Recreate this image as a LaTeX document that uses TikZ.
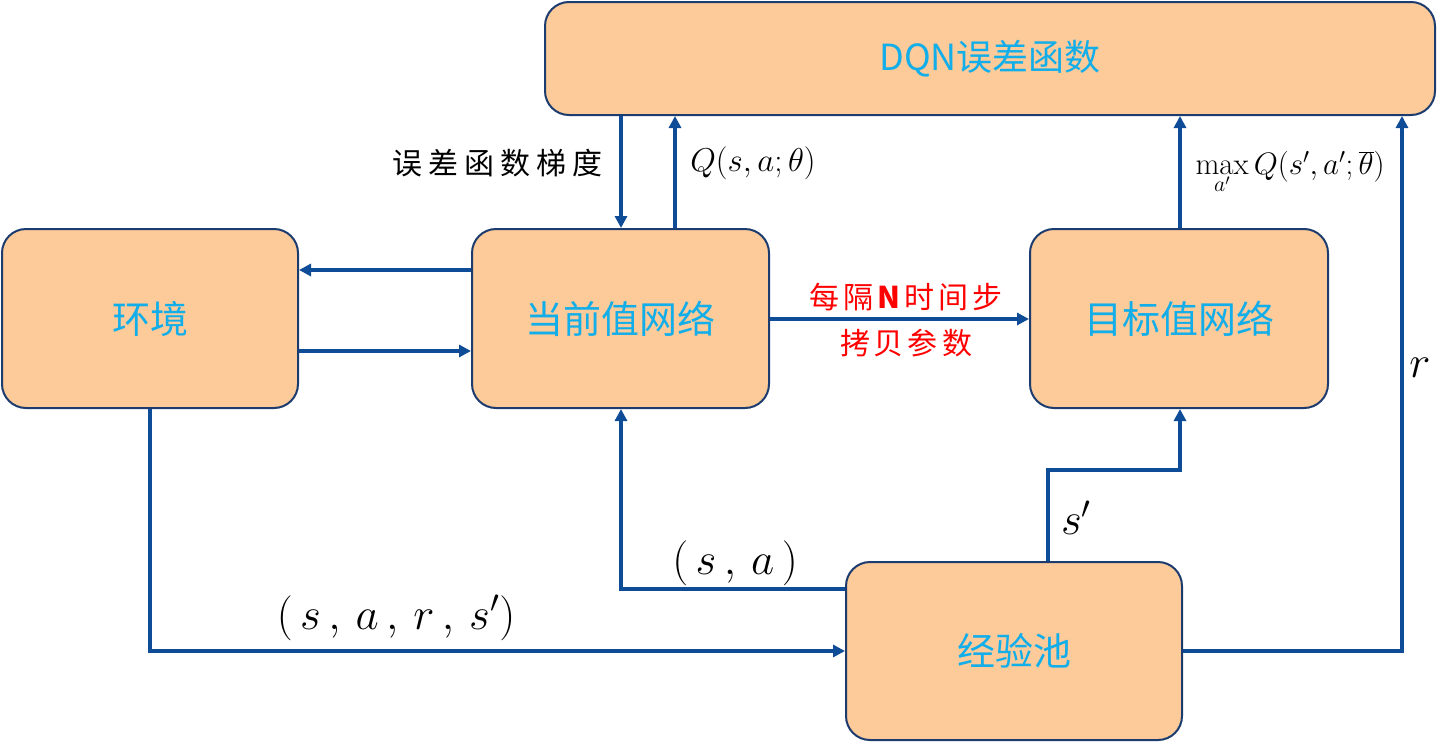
\RequirePackage{fix-cm}
\documentclass[tikz,border=0pt]{standalone}
\usepackage{fontspec}
\newfontfamily\cjk{Noto Sans CJK SC}
\usetikzlibrary{arrows.meta,calc}
\definecolor{peach}{HTML}{FCCB99}
\definecolor{boxline}{HTML}{1C3B6E}
\definecolor{arrblue}{HTML}{0F4C97}
\definecolor{cyantext}{HTML}{12AEEA}
\newcommand{\gs}{\hspace{6pt}}
\newcommand{\rs}{\hspace{4pt}}
\tikzset{
  blk/.style={draw=boxline, line width=2pt, fill=peach, rounded corners=24pt, text=cyantext, font=\cjk\fontsize{38}{44}\selectfont, inner sep=0pt},
  arr/.style={draw=arrblue, line width=3.2pt, -{Triangle[length=12pt,width=12pt]}},
  lbl/.style={font=\cjk\fontsize{30}{36}\selectfont, inner sep=0pt},
  redlbl/.style={font=\cjk\fontsize{30}{36}\selectfont, text=red, inner sep=0pt},
  mlbl/.style={font=\fontsize{33}{40}\selectfont, inner sep=0pt},
  maxlbl/.style={font=\fontsize{31}{38}\selectfont, inner sep=0pt},
  biglbl/.style={font=\fontsize{45}{52}\selectfont, inner sep=0pt}
}
\begin{document}
\begin{tikzpicture}[x=1pt,y=-1pt]
\useasboundingbox (0,0) rectangle (1449,742);
\node[blk, font=\cjk\fontsize{36}{42}\selectfont, minimum width=890pt, minimum height=113pt] (dqn) at (990,58.5) {DQN误差函数};
\node[blk, minimum width=296pt, minimum height=179pt] (env) at (150,318.5) {环境};
\node[blk, minimum width=297pt, minimum height=179pt] (cur) at (620.5,318.5) {当前值网络};
\node[blk, minimum width=298pt, minimum height=179pt] (tgt) at (1179,318.5) {目标值网络};
\node[blk, minimum width=336pt, minimum height=178pt] (pool) at (1014,651) {经验池};
% helper coordinates
\coordinate (xg) at (621,0);
\coordinate (xq) at (675,0);
\coordinate (xt) at (1180,0);
\coordinate (xr) at (1402,0);
\coordinate (xe) at (150,0);
\coordinate (xs) at (1048,0);
\coordinate (y1) at (0,270);
\coordinate (y2) at (0,351);
\coordinate (y3) at (0,319);
\coordinate (y4) at (0,651);
\coordinate (y5) at (0,589);
\coordinate (y6) at (0,470);
% connectors
\draw[arr] (dqn.south -| xg) -- (cur.north -| xg);
\draw[arr] (cur.north -| xq) -- (dqn.south -| xq);
\draw[arr] (tgt.north -| xt) -- (dqn.south -| xt);
\draw[arr] (pool.east |- y4) -| (dqn.south -| xr);
\draw[arr] (cur.west |- y1) -- (env.east |- y1);
\draw[arr] (env.east |- y2) -- (cur.west |- y2);
\draw[arr] (cur.east |- y3) -- (tgt.west |- y3);
\draw[arr] (env.south -| xe) |- (pool.west |- y4);
\draw[arr] (pool.west |- y5) -| (cur.south -| xg);
\coordinate (bend) at (xs |- y6);
\draw[arr] (pool.north -| xs) -- (bend) -| (tgt.south -| xt);
% labels
\node[lbl] (lgrad) at (497,163) {误\gs 差\gs 函\gs 数\gs 梯\gs 度};
\node[mlbl] (lq) at (753,163) {$Q(s,a;\theta)$};
\node[maxlbl] (lmax) at (1290,172) {$\max\limits_{a'} Q(s',a';\overline{\theta})$};
\node[redlbl] (lcopy1) at (906,297) {每\rs 隔\rs\textbf{N}\rs 时\rs 间\rs 步};
\node[redlbl] (lcopy2) at (906,343) {拷\rs 贝\rs 参\rs 数};
\node[biglbl] (lr) at (1420,368) {$r$};
\node[biglbl] (ls) at (1076,518) {$s'$};
\node[biglbl] (lsa) at (735,563) {$(\,s\,,\,a\,)$};
\node[biglbl] (lsars) at (396,618) {$(\,s\,,\,a\,,\,r\,,\,s')$};
\end{tikzpicture}
\end{document}
